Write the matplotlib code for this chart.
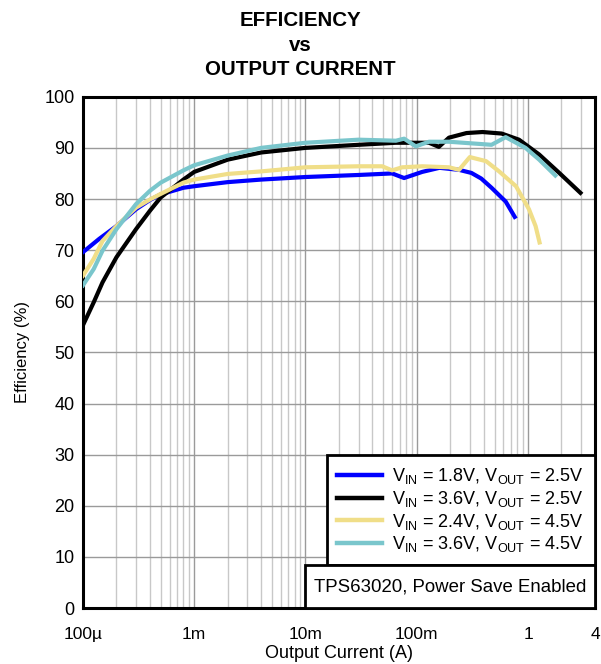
import matplotlib.pyplot as plt
from matplotlib.ticker import LogLocator, NullFormatter
from matplotlib.patches import Rectangle

plt.rcParams['font.family'] = ['Liberation Sans', 'DejaVu Sans']
plt.rcParams['mathtext.fontset'] = 'custom'
plt.rcParams['mathtext.rm'] = 'Liberation Sans'
plt.rcParams['mathtext.it'] = 'Liberation Sans:italic'

# 1. Data (current in A, efficiency in %)
i_blue = [1e-4, 1.4e-4, 2e-4, 3e-4, 4e-4, 5e-4, 8e-4, 1e-3, 2e-3, 4e-3,
          1e-2, 3e-2, 6e-2, 7.7e-2, 1.12e-1, 1.6e-1, 2.4e-1, 3.1e-1, 3.8e-1,
          4.7e-1, 6.3e-1, 7.6e-1]
eff_blue = [69.6, 72.2, 74.7, 78.0, 79.8, 80.9, 82.2, 82.5, 83.3, 83.8,
            84.3, 84.7, 85.0, 84.1, 85.3, 86.1, 85.7, 85.1, 84.0,
            82.2, 79.5, 76.5]

i_black = [1e-4, 1.25e-4, 1.5e-4, 2e-4, 3e-4, 4e-4, 5e-4, 8e-4, 1e-3, 2e-3,
           4e-3, 1e-2, 3e-2, 6.5e-2, 9.8e-2, 1.29e-1, 1.58e-1, 1.95e-1, 2.8e-1,
           3.9e-1, 5.8e-1, 8.3e-1, 1.26, 1.91, 2.96]
eff_black = [55.3, 59.8, 63.7, 68.6, 74.1, 77.7, 80.3, 83.8, 85.3, 87.7,
             89.1, 90.0, 90.6, 91.0, 91.0, 91.0, 90.2, 92.0, 92.9,
             93.1, 92.8, 91.6, 88.7, 85.1, 81.2]

i_yellow = [1e-4, 1.25e-4, 1.5e-4, 2e-4, 3e-4, 4e-4, 5e-4, 8e-4, 1e-3, 2e-3,
            4e-3, 1e-2, 3e-2, 4.9e-2, 6e-2, 7.4e-2, 1.12e-1, 1.95e-1, 2.4e-1,
            3e-1, 4.2e-1, 5.5e-1, 7.8e-1, 1.02, 1.17, 1.27]
eff_yellow = [65.0, 68.3, 71.8, 74.7, 78.3, 79.9, 81.0, 83.2, 83.8, 84.9,
              85.4, 86.2, 86.4, 86.4, 85.6, 86.2, 86.4, 86.2, 85.7,
              88.2, 87.4, 85.4, 82.5, 78.0, 74.7, 71.5]

i_cyan = [1e-4, 1.25e-4, 1.5e-4, 2e-4, 3e-4, 4e-4, 5e-4, 8e-4, 1e-3, 2e-3,
          4e-3, 1e-2, 3e-2, 6.5e-2, 7.7e-2, 9.8e-2, 1.29e-1, 1.95e-1, 4.7e-1,
          6.3e-1, 9.5e-1, 1.26, 1.76]
eff_cyan = [63.1, 66.3, 69.9, 74.1, 79.0, 81.6, 83.2, 85.6, 86.6, 88.5,
            90.0, 91.0, 91.6, 91.4, 91.8, 90.3, 91.2, 91.2, 90.6,
            92.1, 90.0, 87.7, 84.6]

labels = [r'V$_{\mathrm{IN}}$ = 1.8V, V$_{\mathrm{OUT}}$ = 2.5V',
          r'V$_{\mathrm{IN}}$ = 3.6V, V$_{\mathrm{OUT}}$ = 2.5V',
          r'V$_{\mathrm{IN}}$ = 2.4V, V$_{\mathrm{OUT}}$ = 4.5V',
          r'V$_{\mathrm{IN}}$ = 3.6V, V$_{\mathrm{OUT}}$ = 4.5V']

x_ticks = [1e-4, 1e-3, 1e-2, 1e-1, 1, 4]
x_tick_labels = ['100\u00b5', '1m', '10m', '100m', '1', '4']

# 2. Figure
fig = plt.figure(figsize=(6.01, 6.64), dpi=100)
ax = fig.add_axes([0.138, 0.0843, 0.852, 0.770])

series = [(i_blue, eff_blue, '#0000ff'),
          (i_black, eff_black, '#000000'),
          (i_yellow, eff_yellow, '#f0de88'),
          (i_cyan, eff_cyan, '#7ac6cc')]
handles = []
for (xs, ys, c), lab in zip(series, labels):
    h, = ax.plot(xs, ys, color=c, linewidth=3.0, label=lab, zorder=3,
                 solid_joinstyle='round')
    handles.append(h)

ax.set_xscale('log')
ax.set_xlim(1e-4, 4)
ax.set_ylim(0, 100)
ax.set_xticks(x_ticks)
ax.set_xticklabels(x_tick_labels)
ax.xaxis.set_minor_locator(LogLocator(base=10, subs=range(2, 10), numticks=20))
ax.xaxis.set_minor_formatter(NullFormatter())
ax.set_yticks(range(0, 101, 10))
ax.tick_params(which='both', length=0)
ax.tick_params(axis='y', labelsize=13, pad=6)
ax.tick_params(axis='x', labelsize=12.5, pad=14)

ax.grid(True, which='major', color='#9a9a9a', linewidth=1.0, zorder=0)
ax.grid(True, which='minor', axis='x', color='#c8c8c8', linewidth=1.0, zorder=0)
for s in ax.spines.values():
    s.set_linewidth(2.2)

ax.set_xlabel('Output Current (A)', fontsize=13, labelpad=2)
ax.set_ylabel('Efficiency (%)', fontsize=12, labelpad=10)
fig.text(0.5, 1 - 11 / 664, 'EFFICIENCY\nvs\nOUTPUT CURRENT', ha='center',
         va='top', fontsize=14.8, fontweight='bold', linespacing=1.38)

# 3. Legend box and note box
ax.add_patch(Rectangle((0.477, 0.084), 0.523, 0.216, transform=ax.transAxes,
                       facecolor='white', edgecolor='black', linewidth=2.0,
                       zorder=5, clip_on=False))
ax.add_patch(Rectangle((0.434, 0.0), 0.566, 0.084, transform=ax.transAxes,
                       facecolor='white', edgecolor='black', linewidth=2.0,
                       zorder=5, clip_on=False))
leg = ax.legend(handles=handles, loc='center left', bbox_to_anchor=(0.496, 0.191),
                frameon=False, fontsize=13, handlelength=2.5, handletextpad=0.55,
                labelspacing=0.15, borderpad=0, borderaxespad=0)
leg.set_zorder(6)
for ln in leg.get_lines():
    ln.set_linewidth(3.2)
ax.text(0.717, 0.042, 'TPS63020, Power Save Enabled', transform=ax.transAxes,
        ha='center', va='center', fontsize=13.4, zorder=6)

fig.savefig('out.png', dpi=100)
